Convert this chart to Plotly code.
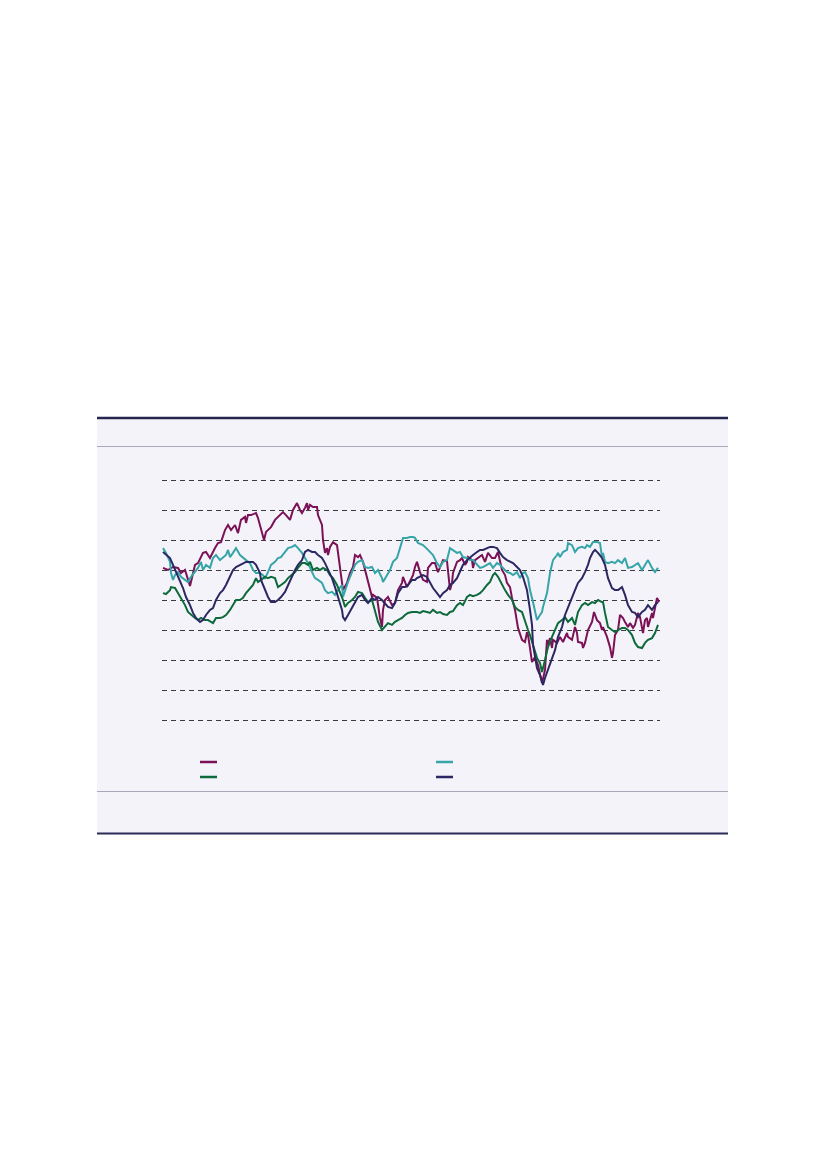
import plotly.graph_objects as go

# Observation index (horizontal position in periods) and index values for each series
maroon_t = [1, 6, 11, 16, 19, 23, 28, 30, 33, 36, 41, 44, 48, 53, 56, 59, 63, 66, 69, 73, 76, 79, 83, 84, 86, 89, 94, 96, 99, 102, 104, 109, 113, 118, 121, 124, 128, 131, 135, 138, 140, 143, 145, 146, 148, 151, 155, 156, 160, 161, 163, 165, 166, 168, 171, 175, 178, 180, 181, 185, 188, 191, 193, 196, 198, 201, 205, 208, 210, 211, 215, 218, 220, 221, 223, 226, 230, 233, 236, 240, 241, 245, 248, 251, 253, 255, 258, 261, 265, 266, 270, 273, 276, 280, 281, 285, 288, 290, 291, 295, 298, 300, 303, 305, 306, 310, 311, 313, 316, 320, 323, 326, 330, 333, 336, 338, 340, 343, 345, 348, 350, 353, 356, 360, 363, 365, 366, 368, 370, 373, 376, 380, 383, 385, 386, 388, 390, 391, 395, 398, 401, 405, 406, 410, 413, 415, 416, 420, 421, 423, 426, 430, 432, 435, 438, 440, 441, 445, 448, 450, 451, 453, 456, 458, 461, 463, 466, 468, 471, 473, 475, 476, 478, 480, 481, 483, 485, 486, 488, 490, 491, 493, 495, 496, 497]
maroon_v = [10.7, 10.0, 11.0, 10.7, 9.0, 10.0, 4.7, 7.3, 11.7, 12.3, 15.7, 16.0, 14.0, 17.3, 19.0, 19.3, 23.3, 25.0, 23.3, 25.0, 22.3, 26.7, 27.7, 25.7, 28.3, 28.3, 29.0, 27.3, 24.0, 20.0, 22.7, 24.3, 26.7, 28.3, 29.3, 28.3, 26.7, 30.0, 32.3, 30.0, 29.0, 30.7, 32.3, 30.0, 31.7, 31.0, 31.0, 28.3, 25.0, 20.0, 15.7, 17.3, 15.0, 17.7, 19.3, 18.3, 10.0, 5.7, 3.3, 5.7, 9.0, 11.0, 15.0, 14.3, 15.0, 12.7, 7.3, 4.0, 1.0, 1.7, 0.7, -6.0, -9.0, -3.3, 0.0, 1.0, -1.7, -1.0, 3.3, 5.7, 7.7, 4.3, 6.3, 8.3, 11.0, 12.7, 9.3, 6.7, 6.0, 10.7, 12.3, 12.3, 9.3, 12.7, 13.3, 13.0, 3.3, 5.7, 9.0, 12.7, 13.3, 14.0, 11.7, 12.7, 14.3, 13.3, 10.7, 13.3, 14.0, 15.0, 12.7, 15.7, 14.0, 14.0, 16.0, 13.3, 10.0, 8.3, 5.7, 4.3, 0.7, -3.3, -9.3, -13.3, -14.0, -10.7, -11.7, -16.0, -20.7, -19.0, -21.7, -27.7, -23.3, -13.3, -15.0, -12.7, -16.0, -13.3, -14.3, -12.3, -14.0, -11.0, -12.3, -13.3, -9.0, -11.0, -14.0, -14.3, -16.0, -14.3, -10.0, -7.3, -4.0, -6.7, -7.7, -10.0, -9.0, -12.3, -15.7, -19.3, -17.7, -11.7, -10.0, -5.0, -6.0, -7.3, -9.0, -7.7, -9.3, -8.3, -6.0, -4.3, -5.7, -9.0, -11.0, -6.7, -6.0, -9.0, -6.7, -4.3, -6.0, -2.7, 0.7, 0.0, -0.7]

teal_t = [1, 4, 8, 9, 11, 13, 16, 19, 23, 26, 29, 33, 36, 39, 41, 44, 48, 51, 54, 58, 61, 64, 66, 68, 71, 74, 78, 81, 84, 88, 91, 94, 98, 101, 103, 106, 109, 113, 116, 119, 123, 126, 130, 133, 136, 140, 143, 146, 150, 153, 156, 160, 163, 166, 170, 173, 176, 180, 181, 183, 186, 190, 193, 196, 200, 203, 206, 210, 213, 216, 220, 221, 225, 228, 231, 235, 238, 241, 245, 248, 251, 253, 256, 261, 266, 271, 275, 278, 281, 285, 288, 291, 295, 298, 301, 305, 308, 311, 315, 318, 321, 325, 328, 331, 335, 338, 341, 345, 348, 351, 355, 358, 361, 363, 366, 368, 371, 373, 375, 378, 380, 381, 385, 388, 391, 395, 396, 398, 401, 405, 406, 410, 413, 416, 420, 423, 425, 428, 431, 435, 438, 440, 441, 443, 446, 450, 453, 456, 460, 463, 466, 470, 473, 476, 480, 483, 486, 490, 493, 496]
teal_v = [17.3, 15.7, 12.7, 9.0, 6.7, 8.3, 9.3, 7.7, 6.7, 6.0, 7.7, 9.3, 10.7, 12.7, 10.0, 11.7, 10.7, 14.0, 15.0, 13.3, 14.0, 15.0, 16.7, 14.3, 15.7, 17.3, 15.0, 14.0, 13.3, 12.3, 10.0, 9.0, 9.0, 8.3, 7.3, 9.3, 11.7, 12.7, 14.0, 14.3, 16.0, 17.3, 17.7, 18.3, 17.3, 15.7, 14.0, 12.3, 9.3, 7.3, 6.7, 5.7, 3.3, 2.3, 2.7, 1.7, 3.3, 5.0, 1.0, 3.3, 6.0, 9.3, 11.7, 12.7, 13.3, 11.0, 10.7, 11.0, 9.0, 10.0, 7.3, 6.0, 8.3, 10.0, 12.7, 14.0, 17.3, 20.7, 20.7, 21.0, 21.0, 20.7, 19.0, 18.3, 16.7, 15.0, 12.3, 11.0, 12.7, 13.3, 17.3, 16.7, 15.7, 16.0, 14.3, 14.0, 13.3, 13.3, 11.7, 10.7, 11.0, 11.7, 12.3, 10.7, 12.3, 11.7, 10.7, 9.3, 9.0, 8.3, 9.3, 7.3, 9.0, 9.3, 7.3, 3.3, -0.7, -4.0, -6.7, -5.0, -4.0, -2.3, 2.3, 9.0, 13.3, 15.0, 15.7, 14.3, 16.0, 16.7, 19.0, 18.3, 16.0, 17.3, 17.7, 17.3, 18.3, 17.7, 19.3, 19.3, 19.0, 14.3, 15.7, 12.7, 12.3, 12.7, 12.3, 13.3, 12.3, 14.0, 10.7, 11.0, 11.7, 12.3, 10.0, 11.7, 13.3, 10.7, 9.3, 10.7]

green_t = [1, 4, 8, 9, 13, 16, 19, 23, 26, 29, 33, 36, 39, 43, 46, 49, 51, 54, 58, 61, 64, 68, 71, 74, 78, 81, 84, 88, 91, 94, 96, 99, 103, 106, 109, 113, 116, 119, 123, 126, 130, 133, 136, 140, 143, 146, 148, 151, 155, 158, 161, 165, 168, 171, 175, 178, 181, 183, 186, 190, 193, 196, 200, 203, 206, 210, 213, 216, 220, 223, 226, 230, 233, 236, 240, 243, 246, 250, 253, 255, 258, 261, 265, 268, 271, 275, 278, 281, 285, 288, 291, 295, 298, 301, 305, 308, 311, 315, 318, 321, 325, 328, 331, 333, 336, 340, 343, 346, 350, 353, 356, 360, 363, 366, 368, 371, 375, 378, 380, 383, 386, 390, 393, 396, 400, 403, 406, 410, 413, 415, 416, 420, 423, 426, 430, 433, 436, 440, 441, 443, 446, 450, 453, 456, 460, 463, 466, 470, 473, 476, 480, 483, 486, 490, 493, 496]
green_v = [2.3, 2.0, 3.3, 4.3, 4.0, 2.3, 0.7, -1.7, -4.0, -5.0, -6.0, -6.7, -6.0, -6.7, -6.7, -7.3, -7.7, -6.0, -6.0, -5.7, -5.0, -3.3, -1.7, 0.0, 0.0, 0.7, 2.3, 4.0, 5.0, 7.3, 6.0, 6.7, 7.7, 7.3, 7.7, 7.3, 4.3, 5.0, 6.0, 7.3, 8.3, 9.3, 10.7, 12.3, 12.3, 11.7, 12.7, 10.0, 10.7, 10.0, 10.7, 10.0, 8.3, 7.3, 5.0, 2.7, 0.0, -2.3, -1.0, 0.0, 1.0, 2.7, 2.3, 0.7, -0.7, 0.0, -3.3, -7.3, -10.0, -9.0, -7.7, -8.3, -7.3, -6.7, -6.0, -5.0, -4.3, -4.0, -4.0, -4.0, -4.3, -3.7, -4.0, -4.3, -3.3, -4.3, -4.0, -4.7, -5.0, -4.0, -3.7, -1.7, -1.0, -1.7, 1.0, 1.7, 1.3, 1.7, 2.3, 3.3, 5.0, 6.0, 8.3, 9.0, 7.7, 5.0, 3.3, 1.7, 0.0, -2.3, -3.3, -4.0, -7.3, -10.0, -11.7, -15.0, -19.3, -21.0, -24.0, -20.0, -15.7, -12.3, -10.0, -7.7, -6.7, -5.7, -7.3, -6.0, -8.3, -6.0, -4.0, -1.7, -1.0, -1.7, -0.7, -1.0, 0.0, -0.7, -0.7, -4.3, -9.0, -10.0, -10.7, -10.0, -9.3, -9.3, -10.0, -11.7, -14.3, -15.7, -16.0, -14.3, -13.3, -12.7, -11.0, -8.3]

navy_t = [1, 4, 8, 11, 14, 18, 21, 24, 28, 31, 34, 38, 41, 44, 48, 51, 54, 58, 61, 64, 68, 71, 74, 78, 81, 84, 88, 91, 94, 98, 99, 103, 106, 109, 113, 116, 119, 123, 126, 130, 133, 136, 140, 143, 146, 150, 153, 156, 160, 163, 166, 170, 173, 176, 180, 181, 183, 186, 190, 193, 196, 200, 203, 206, 210, 213, 216, 220, 223, 226, 230, 233, 236, 240, 243, 246, 250, 253, 255, 258, 261, 265, 268, 271, 275, 278, 281, 285, 288, 291, 295, 298, 301, 305, 308, 311, 315, 318, 321, 325, 328, 331, 335, 338, 341, 345, 348, 351, 355, 358, 361, 365, 368, 370, 371, 373, 375, 378, 380, 381, 383, 386, 390, 393, 396, 400, 403, 406, 410, 413, 416, 420, 423, 426, 428, 431, 433, 436, 440, 443, 446, 450, 453, 456, 460, 463, 466, 470, 473, 476, 480, 483, 486, 490, 493, 496]
navy_v = [16.0, 15.0, 14.0, 11.7, 9.3, 6.7, 4.0, 1.0, -1.7, -4.3, -6.0, -7.3, -6.7, -5.0, -3.3, -2.7, 0.0, 2.3, 3.3, 5.0, 7.7, 10.0, 11.0, 11.7, 12.3, 12.7, 12.7, 12.7, 11.7, 9.0, 6.7, 3.3, 1.0, -0.7, -0.7, 0.0, 1.0, 2.7, 5.0, 8.3, 10.0, 11.7, 13.3, 16.0, 16.7, 16.0, 16.0, 15.0, 14.0, 12.3, 10.0, 7.3, 4.3, 1.0, -3.3, -5.7, -6.7, -5.0, -2.7, -0.7, 1.0, 1.7, 0.0, -1.0, 0.7, 0.0, 1.0, 0.0, -1.0, -2.3, -2.7, -1.0, 2.3, 4.3, 4.3, 5.0, 6.7, 6.7, 7.3, 7.7, 8.3, 7.7, 6.0, 4.0, 2.3, 1.0, 2.3, 3.3, 5.0, 5.7, 7.3, 9.3, 11.7, 13.3, 14.3, 15.0, 16.0, 16.7, 16.7, 17.3, 17.7, 17.7, 17.3, 15.7, 14.3, 13.3, 12.7, 12.3, 11.0, 10.0, 7.7, 3.3, -3.3, -8.3, -15.0, -19.3, -22.7, -25.0, -27.3, -28.3, -26.0, -23.3, -20.0, -16.7, -12.3, -9.0, -5.0, -2.3, 0.7, 3.3, 5.7, 7.3, 9.3, 11.7, 14.0, 16.0, 16.7, 15.7, 14.0, 11.7, 7.3, 4.0, 3.3, 3.3, 4.3, 1.7, -1.7, -4.0, -4.3, -5.7, -4.0, -3.3, -1.7, -3.3, -1.7, -0.7]

grid_values = [-40, -30, -20, -10, 0, 10, 20, 30, 40]

series = [
    (maroon_t, maroon_v, "#7b1257"),
    (teal_t, teal_v, "#35a5a8"),
    (green_t, green_v, "#0d6a3b"),
    (navy_t, navy_v, "#2b2763"),
]

fig = go.Figure()
for t, v, c in series:
    fig.add_trace(go.Scatter(x=t, y=v, mode="lines", line=dict(color=c, width=2),
                             showlegend=False, hoverinfo="skip"))

# The page body adds an 8px offset; work in page pixels and subtract it.
OFF = 8
W, H = 826, 1169
L, R, T, B = 162 - OFF, 660 - OFF, 470 - OFF, 730 - OFF  # plot area in figure px
def px(xp):
    return (xp - OFF - L) / (R - L)
def py(yp):
    return (B - (yp - OFF)) / (B - T)

shapes = []
shapes.append(dict(type="rect", xref="paper", yref="paper", x0=px(97), x1=px(728),
                   y0=py(834), y1=py(417), fillcolor="#f4f3f9", line=dict(width=0), layer="below"))
shapes.append(dict(type="line", xref="paper", yref="paper", x0=px(97), x1=px(728),
                   y0=py(418), y1=py(418), line=dict(color="#25264f", width=2.5)))
shapes.append(dict(type="line", xref="paper", yref="paper", x0=px(97), x1=px(728),
                   y0=py(446.5), y1=py(446.5), line=dict(color="#a9a7b8", width=1.2)))
shapes.append(dict(type="line", xref="paper", yref="paper", x0=px(97), x1=px(728),
                   y0=py(791.5), y1=py(791.5), line=dict(color="#a9a7b8", width=1.2)))
shapes.append(dict(type="line", xref="paper", yref="paper", x0=px(97), x1=px(728),
                   y0=py(833.5), y1=py(833.5), line=dict(color="#2b2c5a", width=2)))

legend_pos = [(200, 762), (200, 777), (436, 762), (436, 777)]
legend_cols = ["#7b1257", "#0d6a3b", "#35a5a8", "#2b2763"]
for (lx, ly), c in zip(legend_pos, legend_cols):
    shapes.append(dict(type="line", xref="paper", yref="paper", x0=px(lx), x1=px(lx + 17),
                       y0=py(ly), y1=py(ly), line=dict(color=c, width=2.5)))

fig.update_layout(
    width=W, height=H,
    margin=dict(l=L, r=W - R, t=T, b=H - B, pad=0),
    paper_bgcolor="white", plot_bgcolor="rgba(0,0,0,0)",
    shapes=shapes,
    showlegend=False,
    xaxis=dict(range=[0, 498], showgrid=False, zeroline=False, showticklabels=False,
               showline=False, ticks=""),
    yaxis=dict(range=[-43.333, 43.333], tickvals=grid_values, showgrid=True,
               gridcolor="#3c3c3c", gridwidth=1, griddash="5px,4px",
               zeroline=False, showticklabels=False, showline=False, ticks=""),
)

fig.write_html("out.html")
